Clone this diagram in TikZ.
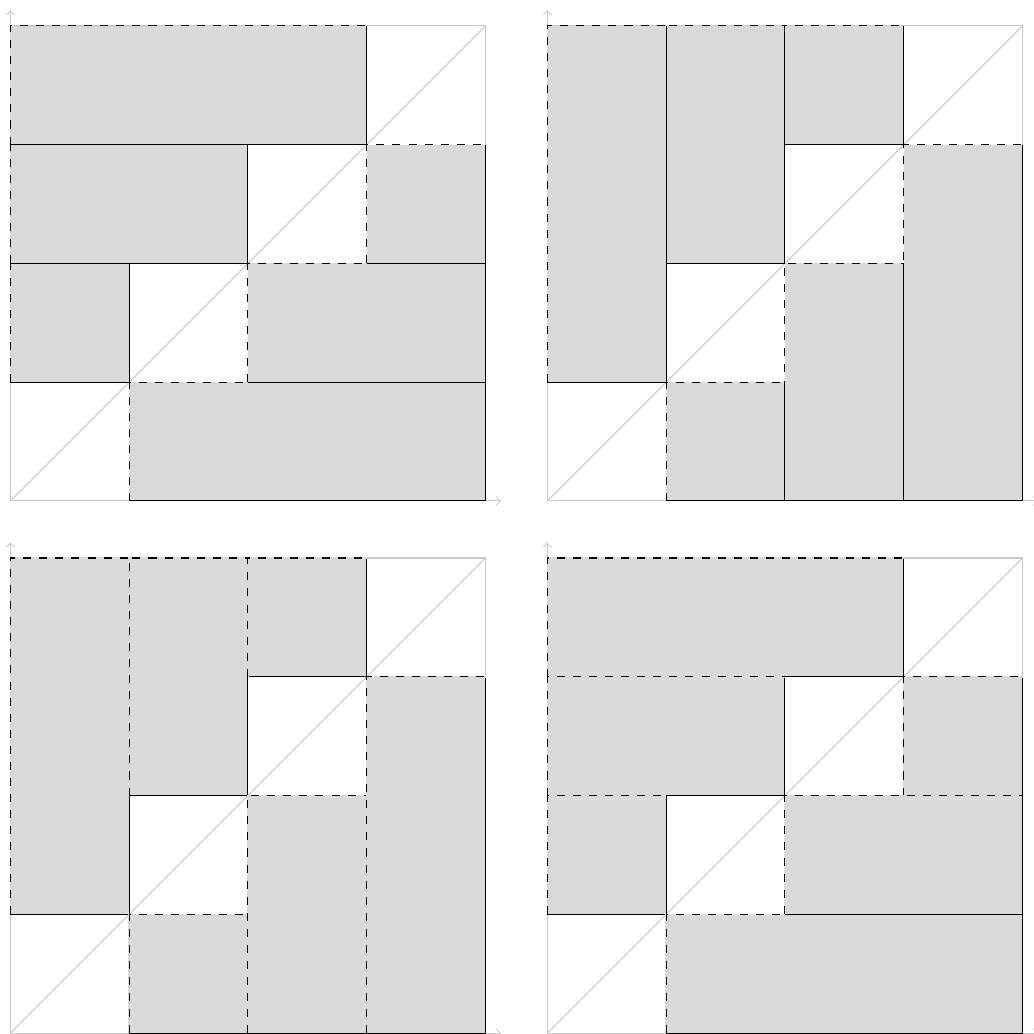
\documentclass[tikz,border=0pt]{standalone}
\usepackage{tikz}
\usetikzlibrary{arrows}
\definecolor{tilegray}{RGB}{217,217,217}
\definecolor{guidegray}{RGB}{200,200,200}
\tikzset{
  guide/.style={draw=guidegray},
  tile/.style={fill=tilegray},
  openbase/.style={draw=tilegray, line width=0.6pt},
  openedge/.style={draw=black, dashed},
  closededge/.style={draw=black}}

\begin{document}
\begin{tikzpicture}[x=1.56cm,y=1.56cm]
\useasboundingbox (-0.087,-4.487) rectangle (8.609,4.217);
% upper row: all tiles filled first, edges drawn on top
\foreach \px/\py/\rects in {0/0/{0/3/3/4,0/2/2/3,3/2/4/3,0/1/1/2,2/1/4/2,1/0/4/1},
                            4.52/0/{0/1/1/4,1/2/2/4,2/3/3/4,3/0/4/3,2/0/3/2,1/0/2/1}}{
  \begin{scope}[shift={(\px,\py)}]
    \draw[guide,->] (0,0) -- (4.13,0);
    \draw[guide,->] (0,0) -- (0,4.13);
    \draw[guide] (0,0) rectangle (4,4);
    \draw[guide] (0,0) -- (4,4);
    \foreach \xa/\ya/\xb/\yb in \rects {\fill[tile] (\xa,\ya) rectangle (\xb,\yb);}
    \foreach \xa/\ya/\xb/\yb in \rects {\draw[openedge] (\xa,\ya) -- (\xa,\yb) -- (\xb,\yb);}
    \foreach \xa/\ya/\xb/\yb in \rects {\draw[closededge] (\xa,\ya) -- (\xb,\ya) -- (\xb,\yb);}
  \end{scope}}
% lower row: one tile after the other, later dashes over earlier lines
\foreach \px/\py/\rects in {0/-4.48/{0/1/1/4,1/2/2/4,2/3/3/4,1/0/2/1,2/0/3/2,3/0/4/3},
                            4.52/-4.48/{0/3/3/4,0/2/2/3,0/1/1/2,3/2/4/3,1/0/4/1,2/1/4/2}}{
  \begin{scope}[shift={(\px,\py)}]
    \draw[guide,->] (0,0) -- (4.13,0);
    \draw[guide,->] (0,0) -- (0,4.13);
    \draw[guide] (0,0) rectangle (4,4);
    \draw[guide] (0,0) -- (4,4);
    \foreach \xa/\ya/\xb/\yb in \rects {
      \fill[tile] (\xa,\ya) rectangle (\xb,\yb);
      \draw[closededge] (\xa,\ya) -- (\xb,\ya) -- (\xb,\yb);
      \draw[openbase] (\xa,\ya) -- (\xa,\yb) -- (\xb,\yb);
      \draw[openedge] (\xa,\ya) -- (\xa,\yb) -- (\xb,\yb);}
  \end{scope}}
\end{tikzpicture}
\end{document}
